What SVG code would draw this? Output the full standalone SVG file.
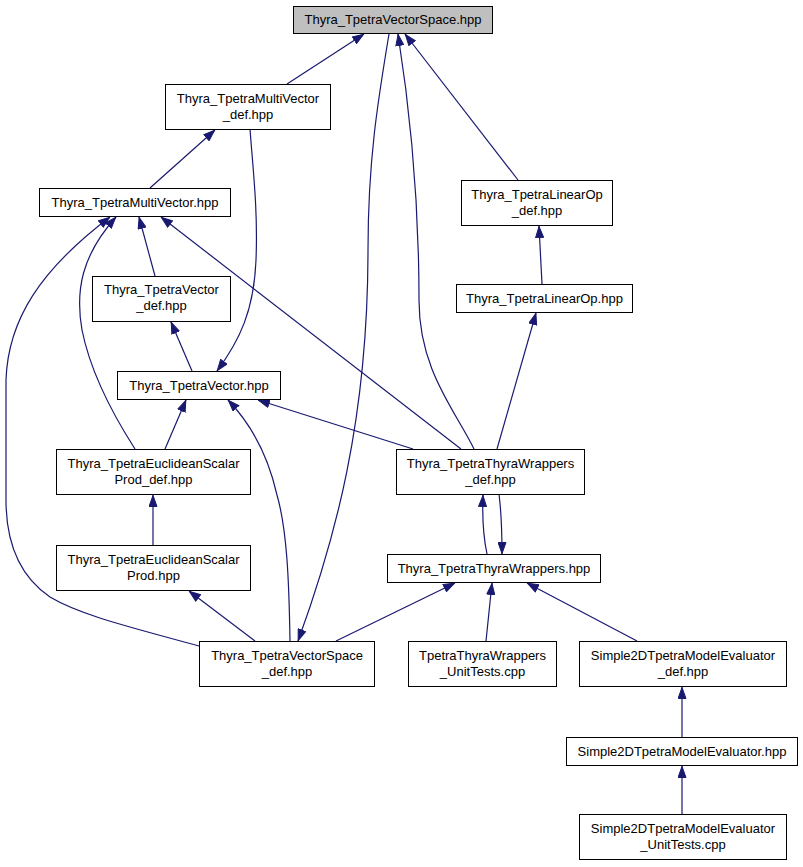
<svg xmlns="http://www.w3.org/2000/svg" width="803" height="867" viewBox="0 0 803 867">
<style>
.box{fill:#ffffff;stroke:#000000;stroke-width:1}
.root{fill:#bfbfbf;stroke:#000000;stroke-width:1}
text{font-family:"Liberation Sans",Arial,Helvetica,sans-serif;font-size:13px;fill:#000000;text-anchor:middle}
.e{fill:none;stroke:#191970;stroke-width:1.2;marker-end:url(#ah)}
</style>
<defs>
<marker id="ah" viewBox="0 0 12 9" refX="12" refY="4.5" markerWidth="12" markerHeight="9" markerUnits="userSpaceOnUse" orient="auto">
<path d="M0.5,0.5 L11.5,4.5 L0.5,8.5 z" fill="#191970" stroke="#191970" stroke-width="1"/>
</marker>
</defs>
<rect width="803" height="867" fill="#ffffff"/>
<g id="edges">
<path class="e" d="M287,84 L364,34"/>
<path class="e" d="M389,34 C378,100 368,160 368,250 C368,420 335,540 298,641"/>
<path class="e" d="M474,449 C455,410 419,370 419,300 C419,200 410,110 398,34"/>
<path class="e" d="M518,180 L405,34"/>
<path class="e" d="M150,188 L215,130"/>
<path class="e" d="M250,129 C253,170 258,210 256,260 C254,310 240,340 217,371"/>
<path class="e" d="M155,276 L139,217"/>
<path class="e" d="M135,449 C110,410 90,370 82,330 C75,290 82,255 116,217"/>
<path class="e" d="M199,646 C130,627 80,615 50,597 C25,580 6,550 6,500 L6,380 C8,320 40,270 110,217"/>
<path class="e" d="M461,449 L161,217"/>
<path class="e" d="M192,371 L171,322"/>
<path class="e" d="M165,449 L186,400"/>
<path class="e" d="M290,641 C289,580 287,530 277,495 C268,455 252,425 228,400"/>
<path class="e" d="M413,449 L258,400"/>
<path class="e" d="M542,284 L539,226"/>
<path class="e" d="M497,449 L536,313"/>
<path class="e" d="M153,545 L153,495"/>
<path class="e" d="M255,641 L189,591"/>
<path class="e" d="M487,554 C483,535 482,520 483,495"/>
<path class="e" d="M499,494 C501,510 502,530 502,554"/>
<path class="e" d="M336,641 L455,583"/>
<path class="e" d="M486,641 L492,583"/>
<path class="e" d="M637,641 L527,583"/>
<path class="e" d="M682,737 L682,687"/>
<path class="e" d="M682,814 L682,766"/>
</g>
<g id="n1"><rect class="root" x="293.5" y="6.5" width="199" height="27"/><text x="393" y="24">Thyra_TpetraVectorSpace.hpp</text></g>
<g id="n2"><rect class="box" x="165.5" y="84.5" width="165" height="45"/><text x="248" y="103">Thyra_TpetraMultiVector</text><text x="248" y="119">_def.hpp</text></g>
<g id="n3"><rect class="box" x="39.5" y="188.5" width="191" height="28"/><text x="135" y="207">Thyra_TpetraMultiVector.hpp</text></g>
<g id="n4"><rect class="box" x="92.5" y="276.5" width="138" height="45"/><text x="161.5" y="294">Thyra_TpetraVector</text><text x="161.5" y="310">_def.hpp</text></g>
<g id="n5"><rect class="box" x="117.5" y="371.5" width="163" height="28"/><text x="199" y="390">Thyra_TpetraVector.hpp</text></g>
<g id="n6"><rect class="box" x="56.5" y="449.5" width="194" height="45"/><text x="153.5" y="468">Thyra_TpetraEuclideanScalar</text><text x="153.5" y="484">Prod_def.hpp</text></g>
<g id="n7"><rect class="box" x="56.5" y="545.5" width="194" height="45"/><text x="153.5" y="564">Thyra_TpetraEuclideanScalar</text><text x="153.5" y="580">Prod.hpp</text></g>
<g id="n8"><rect class="box" x="199.5" y="641.5" width="175" height="45"/><text x="287" y="660">Thyra_TpetraVectorSpace</text><text x="287" y="676">_def.hpp</text></g>
<g id="n9"><rect class="box" x="461.5" y="180.5" width="151" height="45"/><text x="537" y="199">Thyra_TpetraLinearOp</text><text x="537" y="215">_def.hpp</text></g>
<g id="n10"><rect class="box" x="456.5" y="284.5" width="176" height="28"/><text x="544.5" y="303">Thyra_TpetraLinearOp.hpp</text></g>
<g id="n11"><rect class="box" x="396.5" y="449.5" width="188" height="45"/><text x="490.5" y="468">Thyra_TpetraThyraWrappers</text><text x="490.5" y="484">_def.hpp</text></g>
<g id="n12"><rect class="box" x="387.5" y="554.5" width="213" height="28"/><text x="494" y="573">Thyra_TpetraThyraWrappers.hpp</text></g>
<g id="n13"><rect class="box" x="408.5" y="641.5" width="148" height="45"/><text x="482.5" y="660">TpetraThyraWrappers</text><text x="482.5" y="676">_UnitTests.cpp</text></g>
<g id="n14"><rect class="box" x="579.5" y="641.5" width="207" height="45"/><text x="683" y="660">Simple2DTpetraModelEvaluator</text><text x="683" y="676">_def.hpp</text></g>
<g id="n15"><rect class="box" x="566.5" y="737.5" width="231" height="28"/><text x="682" y="756">Simple2DTpetraModelEvaluator.hpp</text></g>
<g id="n16"><rect class="box" x="579.5" y="814.5" width="207" height="45"/><text x="683" y="833">Simple2DTpetraModelEvaluator</text><text x="683" y="849">_UnitTests.cpp</text></g>
</svg>
